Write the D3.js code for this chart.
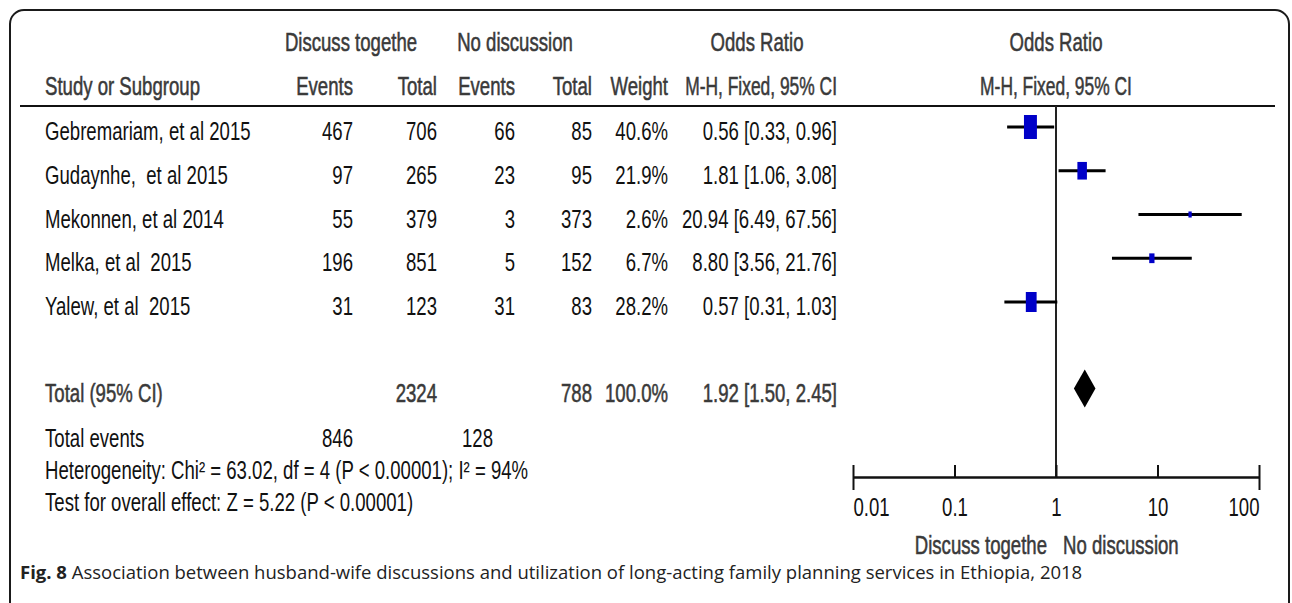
<!DOCTYPE html>
<html>
<head>
<meta charset="utf-8">
<script src="https://cdn.jsdelivr.net/npm/d3@7"></script>
<style>
  html, body { margin: 0; padding: 0; background: #fff; }
  svg { display: block; }
  .t { font-family: 'Liberation Sans', Arial, sans-serif; font-size: 26px; fill: #111; white-space: pre; }
  .h { fill: #3a3a3a; stroke: #3a3a3a; stroke-width: 0.55px; }
  .cap { font-family: 'Open Sans', sans-serif; font-size: 18.5px; fill: #222; white-space: pre; }
</style>
</head>
<body>
<svg id="chart" width="1292" height="603"></svg>
<script>
// ---------------- data ----------------
const studies   = ["Gebremariam, et al 2015", "Gudaynhe,  et al 2015", "Mekonnen, et al 2014", "Melka, et al  2015", "Yalew, et al  2015"];
const eventsA   = [467, 97, 55, 196, 31];
const totalA    = [706, 265, 379, 851, 123];
const eventsB   = [66, 23, 3, 5, 31];
const totalB    = [85, 95, 373, 152, 83];
const weights   = [40.6, 21.9, 2.6, 6.7, 28.2];
const orValues  = [0.56, 1.81, 20.94, 8.80, 0.57];
const ciLower   = [0.33, 1.06, 6.49, 3.56, 0.31];
const ciUpper   = [0.96, 3.08, 67.56, 21.76, 1.03];
const pooled    = { or: 1.92, lo: 1.50, hi: 2.45, totalA: 2324, totalB: 788, weight: 100.0, eventsA: 846, eventsB: 128 };
const tickValues = [0.01, 0.1, 1, 10, 100];
const tickLabels = ["0.01", "0.1", "1", "10", "100"];
const heterogeneityText = "Heterogeneity: Chi\u00b2 = 63.02, df = 4 (P < 0.00001); I\u00b2 = 94%";
const overallText = "Test for overall effect: Z = 5.22 (P < 0.00001)";
const groupA = "Discuss togethe", groupB = "No discussion";

// ---------------- layout ----------------
const svg = d3.select("#chart");
const K = 0.715; // horizontal condensing of the font
const f2 = d3.format(".2f"), f1 = d3.format(".1f");

function T(x, y, s, anchor, cls, k) {
  return svg.append("text")
    .attr("class", "t " + (cls || ""))
    .attr("transform", `translate(${x},${y}) scale(${k || K},1)`)
    .attr("text-anchor", anchor || "start")
    .text(s);
}

// frame
svg.append("rect").attr("x", 10).attr("y", 10).attr("width", 1279).attr("height", 660)
  .attr("rx", 14).attr("fill", "none").attr("stroke", "#1a1a1a").attr("stroke-width", 2);

// columns (right edges)
const col = { name: 45, eA: 353, tA: 437, eB: 515, tB: 592, w: 668, ci: 837 };

// header
T(351, 51, groupA, "middle", "h");
T(515, 51, groupB, "middle", "h");
T(757, 51, "Odds Ratio", "middle", "h");
T(1056, 51, "Odds Ratio", "middle", "h");
T(col.name, 95, "Study or Subgroup", "start", "h");
T(col.eA, 95, "Events", "end", "h");
T(col.tA, 95, "Total", "end", "h");
T(col.eB, 95, "Events", "end", "h");
T(col.tB, 95, "Total", "end", "h");
T(col.w, 95, "Weight", "end", "h");
T(col.ci, 95, "M-H, Fixed, 95% CI", "end", "h", 0.67);
T(1056, 95, "M-H, Fixed, 95% CI", "middle", "h", 0.67);

svg.append("line").attr("x1", 20).attr("x2", 1275).attr("y1", 106).attr("y2", 106)
  .attr("stroke", "#111").attr("stroke-width", 2);

// scales
const x = d3.scaleLog().domain([0.01, 100]).range([853, 1259]);
const yRow = d3.scaleLinear().domain([0, 4]).range([127, 302]);
const size = d3.scaleSqrt().domain([0, 40.6]).range([0, 24]);

// study rows
studies.forEach((s, i) => {
  const yb = yRow(i) + 13;
  T(col.name, yb, s);
  T(col.eA, yb, eventsA[i], "end");
  T(col.tA, yb, totalA[i], "end");
  T(col.eB, yb, eventsB[i], "end");
  T(col.tB, yb, totalB[i], "end");
  T(col.w, yb, f1(weights[i]) + "%", "end");
  T(col.ci, yb, `${f2(orValues[i])} [${f2(ciLower[i])}, ${f2(ciUpper[i])}]`, "end");
});

// total row
const yTot = yRow(6) - 1;
T(col.name, yTot + 13, "Total (95% CI)", "start", "h");
T(col.tA, yTot + 13, pooled.totalA, "end", "h");
T(col.tB, yTot + 13, pooled.totalB, "end", "h");
T(col.w, yTot + 13, f1(pooled.weight) + "%", "end", "h");
T(col.ci, yTot + 13, `${f2(pooled.or)} [${f2(pooled.lo)}, ${f2(pooled.hi)}]`, "end", "h");

T(col.name, 447, "Total events");
T(col.eA, 447, pooled.eventsA, "end");
T(493, 447, pooled.eventsB, "end");
T(col.name, 479, heterogeneityText);
T(col.name, 511, overallText);

// plot: null line
const axisY = 477;
svg.append("line").attr("x1", x(1)).attr("x2", x(1)).attr("y1", 106).attr("y2", axisY)
  .attr("stroke", "#222").attr("stroke-width", 2);

// CI lines
svg.append("g").selectAll("line").data(studies).join("line")
  .attr("x1", (d, i) => x(ciLower[i])).attr("x2", (d, i) => x(ciUpper[i]))
  .attr("y1", (d, i) => yRow(i)).attr("y2", (d, i) => yRow(i))
  .attr("stroke", "#000").attr("stroke-width", 3);

// weight boxes
svg.append("g").selectAll("rect").data(studies).join("rect")
  .attr("x", (d, i) => x(orValues[i]) - size(weights[i]) * 0.27)
  .attr("y", (d, i) => yRow(i) - size(weights[i]) / 2)
  .attr("width", (d, i) => size(weights[i]) * 0.54)
  .attr("height", (d, i) => size(weights[i]))
  .attr("fill", "#0000c8");

// pooled diamond
svg.append("path")
  .attr("d", `M${x(pooled.lo)},${yTot} L${x(pooled.or)},${yTot - 19} L${x(pooled.hi)},${yTot} L${x(pooled.or)},${yTot + 19} Z`)
  .attr("fill", "#000");

// axis
const axis = d3.axisBottom(x).tickValues(tickValues).tickFormat("").tickSizeInner(-12).tickSizeOuter(0);
const ga = svg.append("g").attr("transform", `translate(0,${axisY})`).call(axis);
ga.select(".domain").attr("stroke", "#111").attr("stroke-width", 2.5);
ga.selectAll(".tick line").attr("stroke", "#111").attr("stroke-width", 2);
ga.selectAll(".tick").filter((d, i) => i === 0 || i === tickValues.length - 1)
  .append("line").attr("y1", 0).attr("y2", 13).attr("stroke", "#111").attr("stroke-width", 2);
ga.selectAll(".tick").each(function (d, i) {
  const anchor = i === 0 ? "start" : (i === tickValues.length - 1 ? "end" : "middle");
  d3.select(this).append("text")
    .attr("class", "t")
    .attr("transform", `translate(0,39) scale(${K},1)`)
    .attr("text-anchor", anchor)
    .attr("fill", "#111")
    .text(tickLabels[i]);
});

T(x(1) - 9, 554, groupA, "end", "h");
T(x(1) + 7, 554, groupB, "start", "h");

// caption
svg.append("text").attr("class", "cap").attr("x", 20).attr("y", 579)
  .call(t => {
    t.append("tspan").attr("font-weight", "bold").text("Fig. 8");
    t.append("tspan").text(" Association between husband-wife discussions and utilization of long-acting family planning services in Ethiopia, 2018");
  });
</script>
</body>
</html>
